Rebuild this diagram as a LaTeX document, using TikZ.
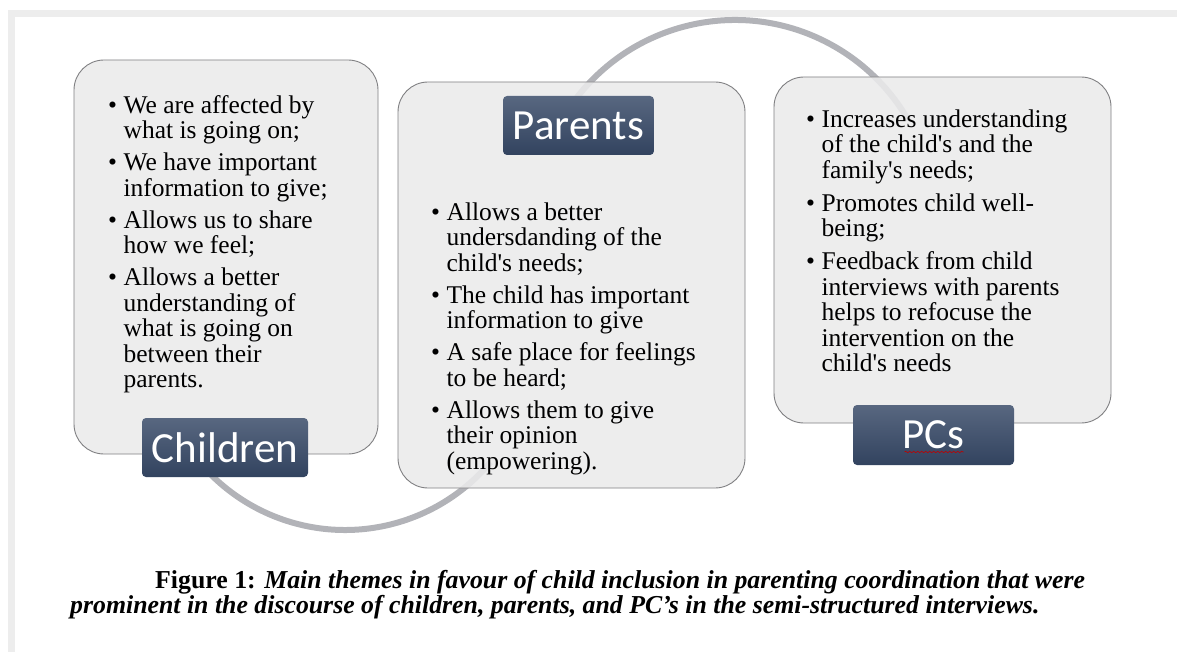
\documentclass[tikz,border=0pt]{standalone}
\usepackage{fontspec}
\setmainfont{Liberation Serif}
\newfontfamily\tagfont{Carlito}
\usetikzlibrary{decorations.pathmorphing}

\definecolor{framegray}{RGB}{237,237,237}
\definecolor{boxfill}{RGB}{234,234,235}
\definecolor{boxline}{RGB}{128,128,130}
\definecolor{arcgray}{RGB}{178,179,184}
\definecolor{tagtop}{RGB}{88,103,128}
\definecolor{tagbot}{RGB}{50,67,95}

% straight apostrophe
\newcommand{\ap}{\textquotesingle}
% bullet list of one box: rows are "bullet & line"
\newcommand{\themelist}[1]{%
  \fontsize{25.5}{25.5}\selectfont
  \begin{tabular}{@{}c@{\hspace{6.5pt}}l@{}}#1\end{tabular}}

\begin{document}
\begin{tikzpicture}[x=1pt,y=-1pt,
  themebox/.style={draw=boxline,line width=0.9pt,fill=boxfill,fill opacity=0.88,
    rounded corners=30pt,inner sep=0pt},
  tagbox/.style={rounded corners=4pt,top color=tagtop,bottom color=tagbot,
    text=white,font=\tagfont\fontsize{43}{43}\selectfont,inner sep=0pt},
  cyclearc/.style={draw=arcgray,line width=6pt},
  themetext/.style={anchor=north west,inner sep=0pt,align=left},
  captext/.style={anchor=base west,inner sep=0pt,font=\fontsize{25.8}{26}\selectfont}]
\useasboundingbox (0,0) rectangle (1177,652);
% frame of the page
\fill[framegray] (8,10) rectangle (1177,17);
\fill[framegray] (8,10) rectangle (15,652);

% the two arcs of the cycle
\coordinate (topc) at (735,220);
\coordinate (botc) at (345,340);
\draw[cyclearc] (topc) ++(-150:200) arc[start angle=-150,end angle=-30,radius=200];
\draw[cyclearc] (botc) ++(140:190) arc[start angle=140,end angle=40,radius=190];

% boxes
\node[themebox,minimum width=304pt,minimum height=394pt] (chbox) at (226,257) {};
\node[themebox,minimum width=347pt,minimum height=406pt] (pabox) at (571.5,285) {};
\node[themebox,minimum width=337pt,minimum height=346pt] (pcbox) at (942.5,250) {};

% bullet texts
\node[themetext] (chtext) at (108,95) {\themelist{%
  \textbullet & We are affected by\\ & what is going on;\\[6.5pt]
  \textbullet & We have important\\ & information to give;\\[6.5pt]
  \textbullet & Allows us to share\\ & how we feel;\\[6.5pt]
  \textbullet & Allows a better\\ & understanding of\\ & what is going on\\
    & between their\\ & parents.}};
\node[themetext] (patext) at (431,202) {\themelist{%
  \textbullet & Allows a better\\ & undersdanding of the\\ & child\ap s needs;\\[6.5pt]
  \textbullet & The child has important\\ & information to give\\[6.5pt]
  \textbullet & A safe place for feelings\\ & to be heard;\\[6.5pt]
  \textbullet & Allows them to give\\ & their opinion\\ & (empowering).}};
\node[themetext] (pctext) at (806,109) {\themelist{%
  \textbullet & Increases understanding\\ & of the child\ap s and the\\
    & family\ap s needs;\\[7.5pt]
  \textbullet & Promotes child well-\\ & being;\\[7.5pt]
  \textbullet & Feedback from child\\ & interviews with parents\\
    & helps to refocuse the\\ & intervention on the\\ & child\ap s needs}};

% title tags
\node[tagbox,minimum width=166pt,minimum height=59pt] (chtag) at (225,447.5) {Children};
\node[tagbox,minimum width=151pt,minimum height=59pt] (patag) at (578.5,125.5) {Parents};
\node[tagbox,minimum width=161pt,minimum height=60pt] (pctag) at (933.5,435) {PCs};
\draw[red!75!black,line width=0.6pt,decorate,
  decoration={snake,amplitude=0.7pt,segment length=4pt}]
  ([xshift=-29pt,yshift=-17pt]pctag.center) -- ([xshift=30pt,yshift=-17pt]pctag.center);

% caption
\node[captext] (capa) at (155,588)
  {\textbf{Figure 1:} \textbf{\itshape Main themes in favour of child inclusion in parenting coordination that were}};
\node[captext] (capb) at (70,613)
  {\textbf{\itshape prominent in the discourse of children, parents, and PC’s in the semi-structured interviews.}};
\end{tikzpicture}
\end{document}
